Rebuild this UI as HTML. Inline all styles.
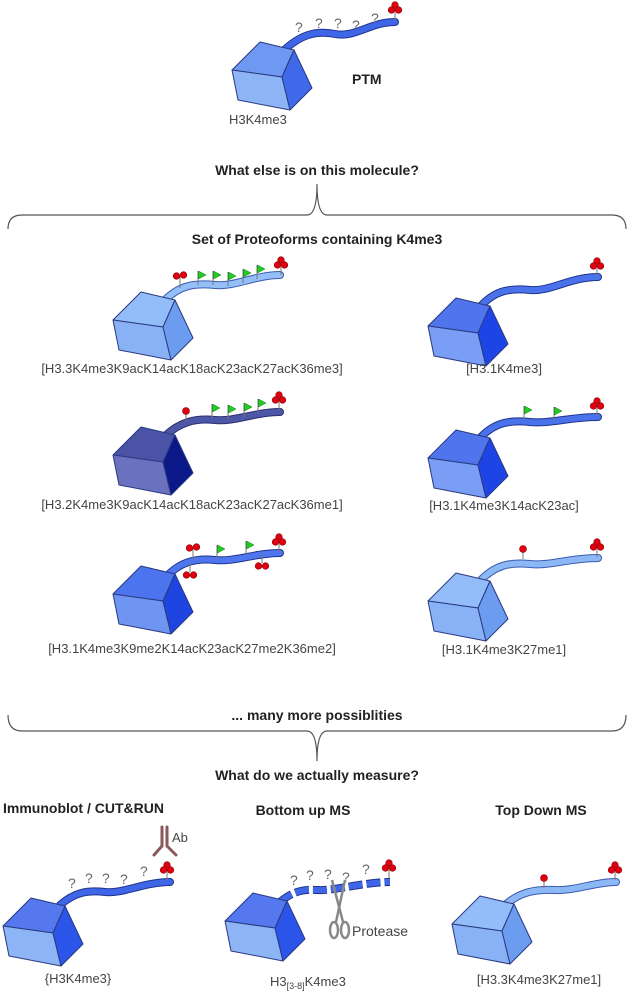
<!DOCTYPE html>
<html><head><meta charset="utf-8"><style>
body{margin:0;background:#fff;}
svg{display:block;}
text{font-family:"Liberation Sans",sans-serif;fill:#333;}
.b{font-weight:bold;font-size:14px;fill:#222;}
.l{font-size:13px;fill:#444;}
.q{font-size:14px;fill:#666;}
</style></head><body>
<svg width="632" height="1000" viewBox="0 0 632 1000" xmlns="http://www.w3.org/2000/svg">
<defs>
<g id="cube" stroke="#2a3a80" stroke-width="1" stroke-linejoin="round">
<path d="M0,28 L28,0 L62,8 L50,35 Z" style="fill:var(--t)"/>
<path d="M0,28 L50,35 L58,68 L6,58 Z" style="fill:var(--f)"/>
<path d="M50,35 L62,8 L80,46 L58,68 Z" style="fill:var(--s)"/>
</g>
<g id="clover" stroke="#800" stroke-width="0.6" fill="#e00010">
<line x1="0" y1="4" x2="0" y2="12" stroke="#777" stroke-width="1"/>
<circle cx="0" cy="-3" r="3.3"/><circle cx="-3.5" cy="2" r="3.3"/><circle cx="3.5" cy="2" r="3.3"/>
</g>
<g id="clovd" stroke="#800" stroke-width="0.6" fill="#e00010">
<line x1="0" y1="-12" x2="0" y2="-3" stroke="#777" stroke-width="1"/>
<circle cx="-3.5" cy="0" r="3.3"/><circle cx="3.5" cy="0" r="3.3"/>
</g>
<g id="clov2" stroke="#800" stroke-width="0.6" fill="#e00010">
<line x1="0" y1="1" x2="0" y2="12" stroke="#777" stroke-width="1"/>
<circle cx="-3.5" cy="0" r="3.3"/><circle cx="3.5" cy="-1" r="3.3"/>
</g>
<g id="pin"><line x1="0" y1="0" x2="0" y2="10" stroke="#777" stroke-width="1"/><circle cx="0" cy="0" r="3.5" fill="#e00010" stroke="#800" stroke-width="0.6"/></g>
<g id="flag"><line x1="0" y1="0" x2="0" y2="14" stroke="#777" stroke-width="1"/><path d="M0.5,0 L8,4 L0.5,8 Z" fill="#22cc22" stroke="#117711" stroke-width="0.5"/></g>
</defs>

<!-- top molecule -->
<path d="M282,52 C300,35 315,30 335,34 S370,22 395,22" fill="none" stroke="#1f3590" stroke-width="8" stroke-linecap="round"/>
<path d="M282,52 C300,35 315,30 335,34 S370,22 395,22" fill="none" stroke="#3e66e6" stroke-width="6" stroke-linecap="round"/>
<use href="#cube" x="232" y="42" style="--t:#6e98f1;--f:#8db5f6;--s:#3f69e8"/>
<use href="#clover" x="395" y="8"/>
<text class="q" x="295" y="32">?</text><text class="q" x="315" y="28">?</text><text class="q" x="334" y="28">?</text><text class="q" x="352" y="30">?</text><text class="q" x="371" y="23">?</text>
<text class="b" x="352" y="84">PTM</text>
<text class="l" x="229" y="124">H3K4me3</text>

<text class="b" x="317" y="175" text-anchor="middle">What else is on this molecule?</text>
<path d="M8,229 Q8,215 22,215 L307,215 Q317,215 317,184 Q317,215 327,215 L612,215 Q626,215 626,229" fill="none" stroke="#555" stroke-width="1.2"/>
<text class="b" x="317" y="244" text-anchor="middle">Set of Proteoforms containing K4me3</text>

<!-- Row1 left -->
<path d="M165,300 C180,285 195,283 215,285 S255,275 280,275" fill="none" stroke="#3a5bb0" stroke-width="8" stroke-linecap="round"/>
<path d="M165,300 C180,285 195,283 215,285 S255,275 280,275" fill="none" stroke="#95bff8" stroke-width="6" stroke-linecap="round"/>
<use href="#cube" x="113" y="292" style="--t:#93bdf8;--f:#88b2f5;--s:#6c9cf0"/>
<use href="#clov2" x="180" y="276"/>
<use href="#flag" x="198" y="271"/><use href="#flag" x="213" y="271"/><use href="#flag" x="228" y="272"/><use href="#flag" x="243" y="269"/><use href="#flag" x="257" y="265"/>
<use href="#clover" x="281" y="263"/>
<text class="l" x="192" y="373" text-anchor="middle">[H3.3K4me3K9acK14acK18acK23acK27acK36me3]</text>

<!-- Row1 right -->
<path d="M480,307 C495,290 510,288 530,290 S570,277 598,277" fill="none" stroke="#1f3590" stroke-width="8" stroke-linecap="round"/>
<path d="M480,307 C495,290 510,288 530,290 S570,277 598,277" fill="none" stroke="#4a72ea" stroke-width="6" stroke-linecap="round"/>
<use href="#cube" x="428" y="298" style="--t:#4f74ec;--f:#7a9ef5;--s:#1d44e4"/>
<use href="#clover" x="597" y="264"/>
<text class="l" x="504" y="373" text-anchor="middle">[H3.1K4me3]</text>

<!-- Row2 left -->
<path d="M165,436 C180,422 195,418 215,420 S255,412 280,412" fill="none" stroke="#2a2f70" stroke-width="8" stroke-linecap="round"/>
<path d="M165,436 C180,422 195,418 215,420 S255,412 280,412" fill="none" stroke="#4e56a6" stroke-width="6" stroke-linecap="round"/>
<use href="#cube" x="113" y="427" style="--t:#4a53a6;--f:#6a72bf;--s:#0a1888"/>
<use href="#pin" x="186" y="411"/>
<use href="#flag" x="212" y="404"/><use href="#flag" x="228" y="405"/><use href="#flag" x="244" y="403"/><use href="#flag" x="258" y="399"/>
<use href="#clover" x="279" y="398"/>
<text class="l" x="192" y="509" text-anchor="middle">[H3.2K4me3K9acK14acK18acK23acK27acK36me1]</text>

<!-- Row2 right -->
<path d="M480,438 C495,422 510,420 530,422 S570,417 598,417" fill="none" stroke="#1f3590" stroke-width="8" stroke-linecap="round"/>
<path d="M480,438 C495,422 510,420 530,422 S570,417 598,417" fill="none" stroke="#4a72ea" stroke-width="6" stroke-linecap="round"/>
<use href="#cube" x="428" y="430" style="--t:#4f74ec;--f:#7a9ef5;--s:#1d44e4"/>
<use href="#flag" x="524" y="406"/><use href="#flag" x="554" y="407"/>
<use href="#clover" x="597" y="404"/>
<text class="l" x="504" y="510" text-anchor="middle">[H3.1K4me3K14acK23ac]</text>

<!-- Row3 left -->
<path d="M166,577 C180,562 195,558 215,560 S255,553 280,553" fill="none" stroke="#1f3590" stroke-width="8" stroke-linecap="round"/>
<path d="M166,577 C180,562 195,558 215,560 S255,553 280,553" fill="none" stroke="#4f76ee" stroke-width="6" stroke-linecap="round"/>
<use href="#cube" x="113" y="566" style="--t:#4c74ee;--f:#6f95f2;--s:#1e45e0"/>
<use href="#clov2" x="193" y="548"/>
<use href="#clovd" x="190" y="575"/>
<use href="#flag" x="217" y="545"/><use href="#flag" x="246" y="541"/>
<use href="#clovd" x="262" y="566"/>
<use href="#clover" x="279" y="540"/>
<text class="l" x="192" y="653" text-anchor="middle">[H3.1K4me3K9me2K14acK23acK27me2K36me2]</text>

<!-- Row3 right -->
<path d="M480,581 C495,565 510,562 530,564 S570,558 598,558" fill="none" stroke="#3a5bb0" stroke-width="8" stroke-linecap="round"/>
<path d="M480,581 C495,565 510,562 530,564 S570,558 598,558" fill="none" stroke="#8db8f6" stroke-width="6" stroke-linecap="round"/>
<use href="#cube" x="428" y="573" style="--t:#93bdf8;--f:#88b2f5;--s:#6c9cf0"/>
<use href="#pin" x="523" y="549"/>
<use href="#clover" x="597" y="545"/>
<text class="l" x="504" y="654" text-anchor="middle">[H3.1K4me3K27me1]</text>

<text class="b" x="317" y="720" text-anchor="middle">... many more possiblities</text>
<path d="M8,715 Q8,731 22,731 L307,731 Q317,731 317,761 Q317,731 327,731 L612,731 Q626,731 626,715" fill="none" stroke="#555" stroke-width="1.2"/>
<text class="b" x="317" y="780" text-anchor="middle">What do we actually measure?</text>

<!-- Immunoblot -->
<text class="b" x="3" y="813">Immunoblot / CUT&amp;RUN</text>
<path d="M60,905 C75,892 88,890 105,892 S145,882 170,882" fill="none" stroke="#1f3590" stroke-width="8" stroke-linecap="round"/>
<path d="M60,905 C75,892 88,890 105,892 S145,882 170,882" fill="none" stroke="#3e66e6" stroke-width="6" stroke-linecap="round"/>
<use href="#cube" x="3" y="898" style="--t:#5578ee;--f:#8db5f6;--s:#2a55e8"/>
<use href="#clover" x="167" y="868"/>
<g stroke="#8a5a5a" stroke-width="3" stroke-linecap="round" fill="none">
<line x1="162" y1="827" x2="162" y2="846"/><line x1="167" y1="827" x2="167" y2="846"/>
<line x1="162" y1="846" x2="154" y2="855"/><line x1="167" y1="846" x2="176" y2="855"/>
</g>
<text class="l" x="172" y="842">Ab</text>
<text class="q" x="68" y="888">?</text><text class="q" x="85" y="883">?</text><text class="q" x="102" y="883">?</text><text class="q" x="120" y="884">?</text><text class="q" x="140" y="876">?</text>
<text class="l" x="78" y="983" text-anchor="middle">{H3K4me3}</text>

<!-- Bottom up -->
<text class="b" x="303" y="815" text-anchor="middle">Bottom up MS</text>
<path d="M280,902 C292,892 302,889 318,890 S365,882 390,882" fill="none" stroke="#1f3590" stroke-width="8" stroke-dasharray="14 4"/>
<path d="M280,902 C292,892 302,889 318,890 S365,882 390,882" fill="none" stroke="#3e66e6" stroke-width="6" stroke-dasharray="14 4"/>
<use href="#cube" x="225" y="893" style="--t:#5578ee;--f:#8db5f6;--s:#2a55e8"/>
<use href="#clover" x="389" y="866"/>
<text class="q" x="290" y="885">?</text><text class="q" x="306" y="880">?</text><text class="q" x="324" y="879">?</text><text class="q" x="342" y="882">?</text><text class="q" x="362" y="874">?</text>
<g stroke="#888" stroke-width="2.5" fill="none">
<line x1="332" y1="880" x2="343" y2="922"/><line x1="345" y1="880" x2="336" y2="922"/>
<ellipse cx="334" cy="930" rx="4" ry="8"/><ellipse cx="345" cy="930" rx="4" ry="8"/>
</g>
<text class="l" x="352" y="936" style="font-size:14px">Protease</text>
<text class="l" x="270" y="986">H3<tspan font-size="9" dy="3">[3-8]</tspan><tspan dy="-3">K4me3</tspan></text>

<!-- Top down -->
<text class="b" x="541" y="815" text-anchor="middle">Top Down MS</text>
<path d="M505,905 C520,892 535,889 555,890 S595,882 616,882" fill="none" stroke="#3a5bb0" stroke-width="8" stroke-linecap="round"/>
<path d="M505,905 C520,892 535,889 555,890 S595,882 616,882" fill="none" stroke="#8db8f6" stroke-width="6" stroke-linecap="round"/>
<use href="#cube" x="452" y="896" style="--t:#93bdf8;--f:#88b2f5;--s:#6c9cf0"/>
<use href="#pin" x="544" y="878"/>
<use href="#clover" x="615" y="868"/>
<text class="l" x="539" y="984" text-anchor="middle">[H3.3K4me3K27me1]</text>
</svg>
</body></html>
